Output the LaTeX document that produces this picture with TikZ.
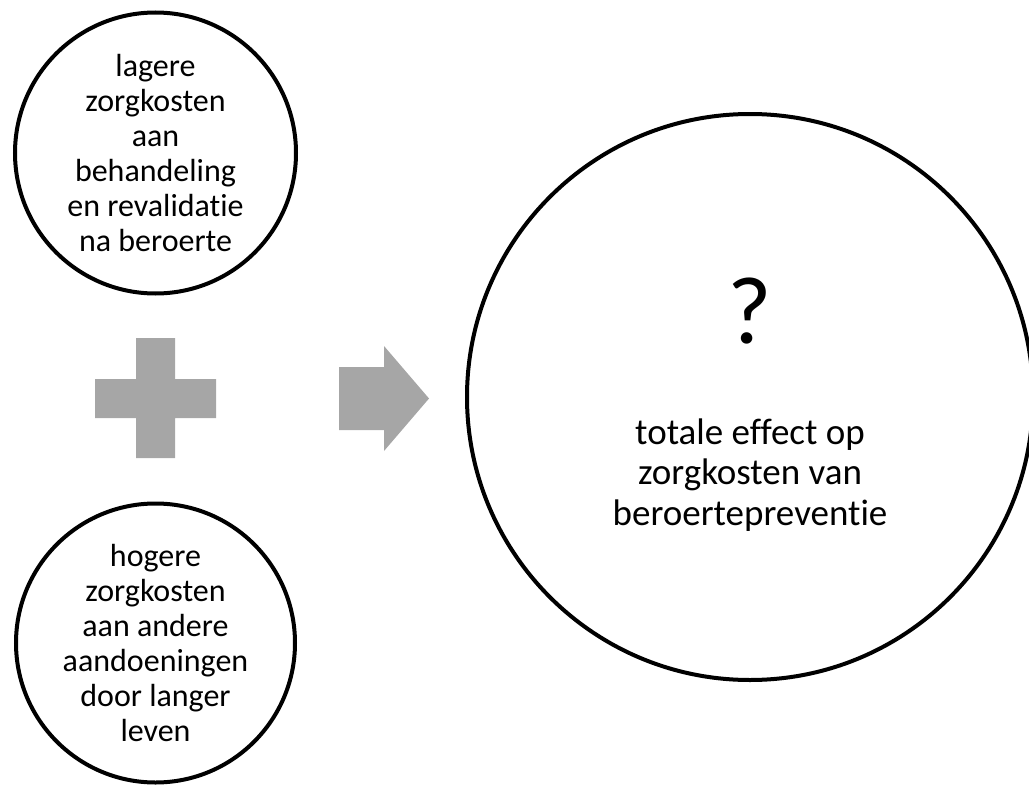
\documentclass[tikz,border=0pt]{standalone}
\usepackage{fontspec}
\setmainfont{Carlito}[Ligatures={NoCommon}]
\definecolor{shapegray}{HTML}{A6A6A6}
\begin{document}
\begin{tikzpicture}[x=1pt, y=-1pt, inner sep=0pt,
    bubble/.style={circle, draw, line width=4pt, align=center, font=\fontsize{32}{35}\selectfont}]
  \useasboundingbox (0,0) rectangle (1029,787);
  \node[bubble, minimum size=281pt] (lower) at (155.5,153) {lagere\\zorgkosten\\aan\\behandeling\\en revalidatie\\na beroerte};
  \node[bubble, minimum size=279pt] (higher) at (155.5,643) {hogere\\zorgkosten\\aan andere\\aandoeningen\\door langer\\leven};
  \node[bubble, minimum size=566pt] (total) at (750,397) {};
  \node[font=\fontsize{96}{100}\selectfont, anchor=base] (question) at (750,343) {?};
  \node[font=\fontsize{37}{40.5}\selectfont, align=center] (effect) at (750,475) {totale effect op\\zorgkosten van\\beroertepreventie};
  % plus sign
  \fill[shapegray] (95,379) -- (136,379) -- (136,338) -- (175,338) -- (175,379) -- (216,379)
    -- (216,418) -- (175,418) -- (175,458) -- (136,458) -- (136,418) -- (95,418) -- cycle;
  % arrow
  \fill[shapegray] (339,367) -- (384,367) -- (384,346) -- (429,398.5) -- (384,451) -- (384,430) -- (339,430) -- cycle;
\end{tikzpicture}
\end{document}
